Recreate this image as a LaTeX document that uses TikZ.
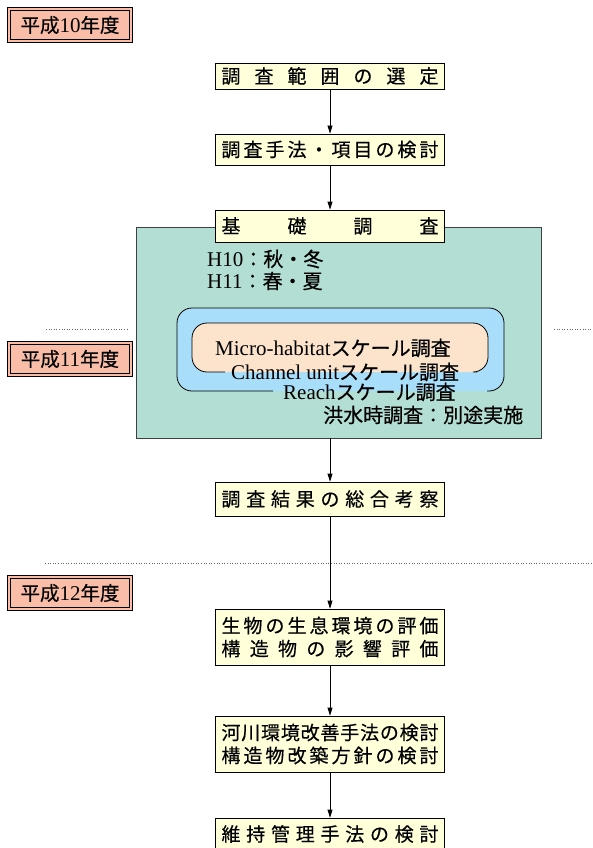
\documentclass[tikz,border=0pt]{standalone}
\usepackage{fontspec}
\setmainfont{Liberation Serif}
\newfontfamily\cjk[FakeBold=0.4]{Noto Sans CJK JP}
\usetikzlibrary{arrows.meta}
\definecolor{boxy}{RGB}{255,255,218}
\definecolor{tealc}{RGB}{178,222,212}
\definecolor{bluec}{RGB}{168,222,250}
\definecolor{peachc}{RGB}{252,228,204}
\definecolor{salmonc}{RGB}{250,190,168}
\newcommand\jst[1]{\makebox[217pt][s]{\jstloop#1\relax}}
\def\jstloop#1#2{#1\ifx\relax#2\else\hfill\expandafter\jstloop\expandafter#2\fi}
\newcommand\cj[1]{{\cjk\fontsize{20}{24}\selectfont #1}}
\newcommand\cjy[1]{{\cjk\fontsize{19.5}{24}\selectfont #1}}
\tikzset{
  flowbox/.style={draw=black, fill=boxy, line width=0.8pt, minimum width=229pt,
    inner sep=0pt, align=center, font=\cjk\fontsize{19}{23}\selectfont},
  yearbox/.style={draw=black, line width=0.7pt, double=salmonc, double distance=2pt,
    fill=salmonc, minimum width=122pt, minimum height=32pt, inner sep=0pt,
    font=\fontsize{21}{24}\selectfont},
  tealtext/.style={inner sep=0pt, font=\fontsize{21}{24}\selectfont},
  flowarrow/.style={draw=black, line width=0.8pt, -{Triangle[length=8pt,width=5pt]}},
  dotline/.style={draw=black!60, line width=0.7pt, dash pattern=on 1pt off 1.6pt}
}
\begin{document}
\begin{tikzpicture}[x=1pt,y=-1pt]
\useasboundingbox (0,0) rectangle (593,848);
% year boxes
\node[yearbox] (y10) at (70,25) {\cjy{平成}10\cjy{年度}};
\node[yearbox] (y11) at (70,359) {\cjy{平成}11\cjy{年度}};
\node[yearbox] (y12) at (70,593) {\cjy{平成}12\cjy{年度}};
% dotted separators
\coordinate (d1a) at (46,329); \coordinate (d1b) at (128,329);
\coordinate (d1c) at (554,329); \coordinate (d1d) at (593,329);
\coordinate (d2a) at (45,563); \coordinate (d2b) at (593,563);
\draw[dotline] (d1a) -- (d1b);
\draw[dotline] (d1c) -- (d1d);
\draw[dotline] (d2a) -- (d2b);
% teal container
\node[draw=black!75, line width=0.8pt, fill=tealc, minimum width=405pt, minimum height=211pt, inner sep=0pt] (teal) at (338.5,332.5) {};
% blue rounded
\fill[bluec, rounded corners=15pt] (177,308) rectangle (504,391);
\draw[line width=0.8pt, rounded corners=15pt] (273,391) -- (177,391) -- (177,308) -- (504,308) -- (504,391) -- (487,391);
% peach rounded
\fill[peachc, rounded corners=15pt] (192,323) rectangle (488,372);
\draw[line width=0.8pt, rounded corners=15pt] (225,372) -- (192,372) -- (192,323) -- (488,323) -- (488,372) -- (477,372);
% teal texts
\node[tealtext, anchor=west] (h10) at (207,259) {H10\cj{：秋・冬}};
\node[tealtext, anchor=west] (h11) at (207,281) {H11\cj{：春・夏}};
\node[tealtext, anchor=west] (micro) at (215,348) {Micro-habitat\cj{スケール調査}};
\node[tealtext, anchor=west] (chan) at (231,372) {Channel unit\cj{スケール調査}};
\node[tealtext, anchor=west] (reach) at (283,392) {Reach\cj{スケール調査}};
\node[tealtext, anchor=west] (flood) at (323,415) {\cj{洪水時調査：別途実施}};
% flow boxes
\node[flowbox, minimum height=26pt] (b1) at (330,76) {\jst{調査範囲の選定}};
\node[flowbox, minimum height=31pt] (b2) at (330,149.5) {\jst{調査手法・項目の検討}};
\node[flowbox, minimum height=32pt] (b3) at (330,226) {\jst{基礎調査}};
\node[flowbox, minimum height=34pt] (b4) at (330,499) {\jst{調査結果の総合考察}};
\node[flowbox, minimum height=56pt] (b5) at (330,637) {\jst{生物の生息環境の評価}\\\jst{構造物の影響評価}};
\node[flowbox, minimum height=56pt] (b6) at (330,744) {\jst{河川環境改善手法の検討}\\\jst{構造物改築方針の検討}};
\node[flowbox, minimum height=32pt] (b7) at (330,834) {\jst{維持管理手法の検討}};
% arrows
\draw[flowarrow] (b1) -- (b2);
\draw[flowarrow] (b2) -- (b3);
\draw[flowarrow] (teal.south -| b4.north) -- (b4);
\draw[flowarrow] (b4) -- (b5);
\draw[flowarrow] (b5) -- (b6);
\draw[flowarrow] (b6) -- (b7);
\end{tikzpicture}
\end{document}
